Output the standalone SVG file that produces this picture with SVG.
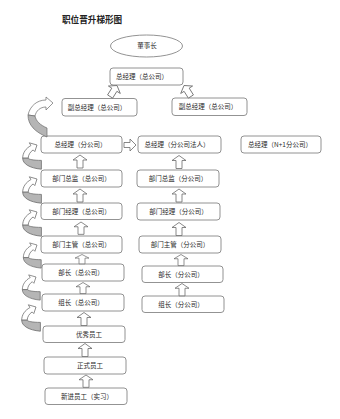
<svg xmlns="http://www.w3.org/2000/svg" width="340" height="419" viewBox="0 0 340 419">
<style>
.bx{fill:#fff;stroke:#777;stroke-width:0.8}
.t{font-family:"Noto Sans CJK SC","Noto Sans",sans-serif;font-size:6.5px;fill:#2a2a2a;text-anchor:middle}
.ti{font-family:"Noto Sans CJK SC","Noto Sans",sans-serif;font-size:8.6px;font-weight:bold;fill:#222}
.ua{fill:#fff;stroke:#6a6a6a;stroke-width:0.8;stroke-linejoin:miter}
.cw{fill:#fff;stroke:#6a6a6a;stroke-width:0.7}
.cg{fill:#b5b5b5;stroke:#6a6a6a;stroke-width:0.7}
</style>
<defs>
<path id="up" d="M0 0 L7 5 L3 5 L3 13 L-3 13 L-3 5 L-7 5 Z"/>
<g id="curl">
<path class="cw" d="M0 0 L-7 -2 L-5.5 0.5 C-10 3 -13 7 -13 12 L-8 12 C-8 9 -6 6 -3.5 4.5 L-2 6 Z"/>
<path class="cg" d="M-13 12 C-13 17 -7 21 4 22 L4 14 C-3 14 -8 13 -8 12 Z"/>
</g>
</defs>
<rect width="340" height="419" fill="#fff"/>
<text class="ti" x="62" y="23">职位晋升梯形图</text>

<g id="n-chairman"><ellipse class="bx" cx="146.5" cy="46" rx="36" ry="11"/><text class="t" x="147" y="48.3">董事长</text></g>
<g id="n-gm-hq"><rect class="bx" x="110" y="68" width="73" height="17" rx="3"/><text class="t" x="142" y="78.8">总经理（总公司）</text></g>
<g id="n-vgm-l"><rect class="bx" x="62" y="98.5" width="75" height="17.5" rx="3"/><text class="t" x="97" y="109.5">副总经理（总公司）</text></g>
<g id="n-vgm-r"><rect class="bx" x="172" y="98" width="75" height="17.5" rx="3"/><text class="t" x="208" y="109">副总经理（总公司）</text></g>

<g id="n-gm-br"><rect class="bx" x="41" y="136" width="81" height="17" rx="3"/><text class="t" x="80.5" y="146.8">总经理（分公司）</text></g>
<g id="n-gm-legal"><rect class="bx" x="138" y="136" width="83" height="17" rx="3"/><text class="t" x="177" y="146.8">总经理（分公司法人）</text></g>
<g id="n-gm-n1"><rect class="bx" x="241" y="136" width="80" height="17" rx="3"/><text class="t" x="280" y="146.8">总经理（N+1分公司）</text></g>

<g id="n-dir-hq"><rect class="bx" x="41" y="170" width="81" height="17" rx="3"/><text class="t" x="81.5" y="180.8">部门总监（总公司）</text></g>
<g id="n-dir-br"><rect class="bx" x="137" y="170" width="82" height="17" rx="3"/><text class="t" x="178" y="180.8">部门总监（分公司）</text></g>
<g id="n-mgr-hq"><rect class="bx" x="41" y="203" width="81" height="16.5" rx="3"/><text class="t" x="81.5" y="213.5">部门经理（总公司）</text></g>
<g id="n-mgr-br"><rect class="bx" x="137" y="203" width="83" height="17" rx="3"/><text class="t" x="178.5" y="213.8">部门经理（分公司）</text></g>
<g id="n-sup-hq"><rect class="bx" x="41" y="236" width="81" height="17" rx="3"/><text class="t" x="81.5" y="246.8">部门主管（总公司）</text></g>
<g id="n-sup-br"><rect class="bx" x="139" y="236" width="82" height="17" rx="3"/><text class="t" x="180" y="246.8">部门主管（分公司）</text></g>
<g id="n-head-hq"><rect class="bx" x="42" y="264" width="82" height="17" rx="3"/><text class="t" x="81" y="274.8">部长（总公司）</text></g>
<g id="n-head-br"><rect class="bx" x="142" y="266" width="81" height="16.5" rx="3"/><text class="t" x="181" y="276.5">部长（分公司）</text></g>
<g id="n-lead-hq"><rect class="bx" x="42" y="294" width="82" height="17" rx="3"/><text class="t" x="81" y="304.8">组长（总公司）</text></g>
<g id="n-lead-br"><rect class="bx" x="142" y="296" width="82" height="16.5" rx="3"/><text class="t" x="181" y="306.5">组长（分公司）</text></g>
<g id="n-excellent"><rect class="bx" x="43" y="326" width="82" height="16.5" rx="3"/><text class="t" x="89" y="336.5">优秀员工</text></g>
<g id="n-formal"><rect class="bx" x="44" y="357" width="82" height="17" rx="3"/><text class="t" x="90" y="367.8">正式员工</text></g>
<g id="n-new"><rect class="bx" x="45" y="388" width="82" height="16.5" rx="3"/><text class="t" x="87" y="398.5">新进员工（实习）</text></g>

<g id="connectors">
<use href="#up" class="ua" transform="translate(117,85.5) rotate(32)"/>
<use href="#up" class="ua" transform="translate(184,85.5) rotate(-32)"/>
<path class="ua" d="M124 142.5 L130 142.5 L130 139 L136 145 L130 151 L130 147.5 L124 147.5 Z"/>
<use href="#up" class="ua" transform="translate(80,155)"/>
<use href="#up" class="ua" transform="translate(80,189)"/>
<use href="#up" class="ua" transform="translate(81,222) scale(1,0.95)"/>
<use href="#up" class="ua" transform="translate(82,254.5) scale(1,0.72)"/>
<use href="#up" class="ua" transform="translate(83,282.5) scale(1,0.85)"/>
<use href="#up" class="ua" transform="translate(84,312.5)"/>
<use href="#up" class="ua" transform="translate(85,343.5)"/>
<use href="#up" class="ua" transform="translate(86,375) scale(1,0.95)"/>
<use href="#up" class="ua" transform="translate(179,155.5)"/>
<use href="#up" class="ua" transform="translate(179,189)"/>
<use href="#up" class="ua" transform="translate(179,222.5)"/>
<use href="#up" class="ua" transform="translate(181,254.5) scale(1,0.85)"/>
<use href="#up" class="ua" transform="translate(182,283.5) scale(1,0.95)"/>
<path class="cw" d="M53 103 L46 97 L46 100 C37 100 30 106 28 115 L35 116 C36 111 40 107 46 107 L46 110 Z"/>
<path class="cg" d="M28 115 C28 125 35 132 47 137 L47 128 C40 125 36 121 35 116 Z"/>
<use href="#curl" transform="translate(37,145) scale(1.1)"/>
<use href="#curl" transform="translate(37,179) scale(1.1)"/>
<use href="#curl" transform="translate(37,212) scale(1.1)"/>
<use href="#curl" transform="translate(37,245) scale(1.05)"/>
<use href="#curl" transform="translate(36,277) scale(1.05)"/>
<use href="#curl" transform="translate(36,307) scale(1.1)"/>
</g>
</svg>
